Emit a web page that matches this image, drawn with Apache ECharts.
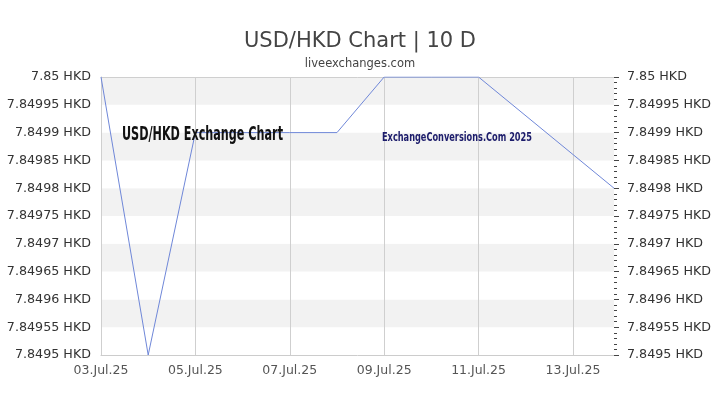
<!DOCTYPE html>
<html>
<head>
<meta charset="utf-8">
<script src="https://cdn.jsdelivr.net/npm/echarts@6/dist/echarts.min.js"></script>
<style>
html,body{margin:0;padding:0;background:#fff;}
#chart{width:720px;height:405px;}
</style>
</head>
<body>
<div id="chart"></div>
<script>
// Data: day offset from 03.Jul.25 and USD/HKD rate
const dayOffsets = [0, 1, 2, 3, 4, 5, 6, 7, 8, 10.87];
const rates = [7.85, 7.8495, 7.8499, 7.8499, 7.8499, 7.8499, 7.85, 7.85, 7.85, 7.8498];
// x tick positions (days) and their labels
const tickDays = [0, 2, 4, 6, 8, 10];
const tickLabels = ['03.Jul.25', '05.Jul.25', '07.Jul.25', '09.Jul.25', '11.Jul.25', '13.Jul.25'];
const yMin = 7.8495, yMax = 7.85, yStep = 0.00005;

const titleText = 'USD/HKD Chart | 10 D';
const subText = 'liveexchanges.com';
const mark1 = 'USD/HKD Exchange Chart';
const mark2 = 'ExchangeConversions.Com 2025';

function measure(text, font) {
  const c = document.createElement('canvas').getContext('2d');
  c.font = font;
  return c.measureText(text).width;
}
const condFam = '"Liberation Sans Narrow","DejaVu Sans Condensed",sans-serif';
const m1Font = 'bold 19px ' + condFam;
const m2Font = 'bold 13px ' + condFam;
const m1Scale = 161 / measure(mark1, m1Font);
const m2Scale = 150 / measure(mark2, m2Font);

const seriesData = dayOffsets.map((d, i) => [d, rates[i]]);
const fmtY = v => parseFloat(v.toFixed(5)) + ' HKD';

const chart = echarts.init(document.getElementById('chart'), null, {renderer: 'canvas'});
chart.setOption({
  animation: false,
  backgroundColor: '#ffffff',
  title: {
    text: titleText,
    subtext: subText,
    left: 'center',
    top: 26,
    itemGap: 6,
    textStyle: {fontFamily: 'DejaVu Sans', fontSize: 21, fontWeight: 'normal', color: '#444'},
    subtextStyle: {fontFamily: 'DejaVu Sans', fontSize: 11.5, color: '#444'}
  },
  grid: {left: 101, right: 106, top: 77, bottom: 50, containLabel: false},
  xAxis: {
    type: 'value',
    min: 0,
    max: dayOffsets[dayOffsets.length - 1],
    interval: 2,
    axisLine: {show: true, lineStyle: {color: '#ccc'}},
    axisTick: {show: false},
    splitLine: {show: false},
    axisLabel: {
      margin: 9,
      fontFamily: 'DejaVu Sans',
      fontSize: 12.5,
      color: '#555',
      showMaxLabel: false,
      formatter: v => {
        const i = tickDays.indexOf(Math.round(v * 1000) / 1000);
        return i >= 0 ? tickLabels[i] : '';
      }
    }
  },
  yAxis: [{
    type: 'value',
    position: 'left',
    min: yMin, max: yMax, interval: yStep,
    axisLine: {show: true, lineStyle: {color: '#ccc'}},
    axisTick: {show: false},
    splitLine: {show: false},
    splitArea: {show: true, areaStyle: {color: ['#ffffff', '#f2f2f2']}},
    axisLabel: {margin: 10, fontFamily: 'DejaVu Sans', fontSize: 12.7, color: '#333', formatter: fmtY}
  }, {
    type: 'value',
    position: 'right',
    min: yMin, max: yMax, interval: yStep,
    axisLine: {show: false},
    axisTick: {show: true, length: 5, lineStyle: {color: '#444'}},
    minorTick: {show: true, splitNumber: 5, length: 3, lineStyle: {color: '#444'}},
    splitLine: {show: false},
    axisLabel: {margin: 13, fontFamily: 'DejaVu Sans', fontSize: 12.7, color: '#333', formatter: fmtY}
  }],
  series: [{
    type: 'line',
    data: seriesData,
    showSymbol: false,
    symbol: 'none',
    z: 3,
    lineStyle: {color: '#6f87d8', width: 1},
    markLine: {
      silent: true,
      symbol: 'none',
      z: 1,
      label: {show: false},
      lineStyle: {color: '#cfcfcf', width: 1, type: 'solid'},
      data: tickDays.map(d => ({xAxis: d})).concat([{yAxis: yMax}])
    }
  }],
  graphic: [{
    type: 'text',
    left: 122, top: 126,
    z: 10,
    style: {text: mark1, font: m1Font, fill: '#111'},
    scaleX: m1Scale,
    originX: 0
  }, {
    type: 'text',
    left: 382, top: 131,
    z: 10,
    style: {text: mark2, font: m2Font, fill: '#1c1c6b'},
    scaleX: m2Scale,
    originX: 0
  }]
});
</script>
</body>
</html>
